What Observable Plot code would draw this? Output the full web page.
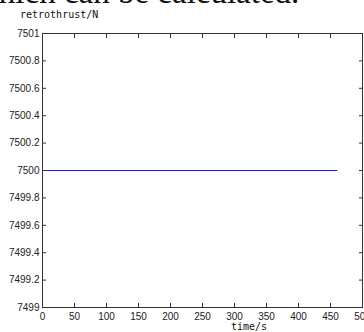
<!DOCTYPE html>
<html><head><meta charset="utf-8">
<script src="https://cdn.jsdelivr.net/npm/d3@7"></script>
<script src="https://cdn.jsdelivr.net/npm/@observablehq/plot@0.6"></script>
<style>
body{margin:0;background:#fff;}
#wrap{position:relative;width:364px;height:332px;overflow:hidden;}
#wrap svg{position:absolute;left:0;top:0;}
.t{position:absolute;white-space:nowrap;z-index:2;color:#111;}
#head{left:-25px;top:-24px;font:33px/33px "Liberation Serif";}
#ylab{left:20px;top:9px;font:10px "DejaVu Sans Mono";}
#xlab{left:231px;top:321px;font:10px "DejaVu Sans Mono";}
</style></head><body>
<div id="wrap"><div class="t" id="head">which can be calculated.</div><div class="t" id="ylab">retrothrust/N</div><div class="t" id="xlab">time/s</div></div>
<script>
const time = [0, 460];
const thrust = [7500, 7500];
const xTicks = [0, 50, 100, 150, 200, 250, 300, 350, 400, 450, 500];
const yTicks = [7499, 7499.2, 7499.4, 7499.6, 7499.8, 7500, 7500.2, 7500.4, 7500.6, 7500.8, 7501];

const data = time.map((t, i) => ({t, v: thrust[i]}));
const fmtY = d => String(+d.toFixed(1));

const chart = Plot.plot({
  width: 364, height: 332,
  marginLeft: 42, marginRight: 2, marginTop: 33, marginBottom: 25,
  x: {domain: [0, 500]},
  y: {domain: [7499, 7501]},
  style: {fontFamily: "Liberation Sans", fontSize: "10px", color: "#222", background: "transparent"},
  marks: [
    Plot.line(data, {x: "t", y: "v", stroke: "#1a1aff", strokeWidth: 1}),
    Plot.axisX({ticks: xTicks, anchor: "bottom", tickSize: -4, tickPadding: 9, tickFormat: d => String(d), label: null, stroke: "#333"}),
    Plot.axisX({ticks: xTicks, anchor: "top", tickSize: -4, tickFormat: () => "", label: null, stroke: "#333"}),
    Plot.axisY({ticks: yTicks, anchor: "left", tickSize: -4, tickPadding: 7, tickFormat: fmtY, label: null, stroke: "#333"}),
    Plot.axisY({ticks: yTicks, anchor: "right", tickSize: -4, tickFormat: () => "", label: null, stroke: "#333"}),
    Plot.frame({stroke: "#333"})
  ]
});
document.getElementById("wrap").appendChild(chart);
</script>
</body></html>
